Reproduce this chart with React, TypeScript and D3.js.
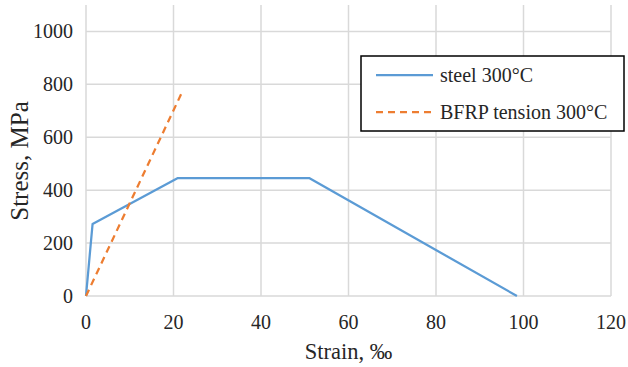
import * as d3 from 'd3';

const steelStrain = [0, 1.5, 21, 51, 98.5];
const steelStress = [0, 272, 446, 446, 0];
const bfrpStrain = [0, 22];
const bfrpStress = [0, 772];
const xTicks = [0, 20, 40, 60, 80, 100, 120];
const yTicks = [0, 200, 400, 600, 800, 1000];

const seriesNames = ['steel 300°C', 'BFRP tension 300°C'];
const colors = ['#5b9bd5', '#ed7d31'];

const width = 628;
const height = 367;
const margin = { top: 5, right: 17, bottom: 71, left: 86 };
const font = 'Liberation Serif';
const textColor = '#262626';

export default function App() {
  const x = d3.scaleLinear().domain([0, 120]).range([margin.left, width - margin.right]);
  const y = d3.scaleLinear().domain([0, 1100]).range([height - margin.bottom, margin.top]);

  const line = d3.line<[number, number]>()
    .x(d => x(d[0]))
    .y(d => y(d[1]));

  const steel = steelStrain.map((s, i) => [s, steelStress[i]] as [number, number]);
  const bfrp = bfrpStrain.map((s, i) => [s, bfrpStress[i]] as [number, number]);

  return (
    <svg
      width={width}
      height={height}
      style={{ position: 'absolute', left: 0, top: 0, background: 'white' }}
    >
      {/* grid */}
      {xTicks.map(t => (
        <line key={'v' + t} x1={x(t)} x2={x(t)} y1={y(1100)} y2={y(0)} stroke="#d9d9d9" strokeWidth={1.5} />
      ))}
      {yTicks.map(t => (
        <line key={'h' + t} x1={x(0)} x2={x(120)} y1={y(t)} y2={y(t)} stroke="#d9d9d9" strokeWidth={1.5} />
      ))}

      {/* tick labels */}
      {yTicks.map(t => (
        <text
          key={'yl' + t}
          x={x(0) - 13}
          y={y(t)}
          dy="0.35em"
          textAnchor="end"
          fill={textColor}
          style={{ fontFamily: font, fontSize: '20px' }}
        >
          {t}
        </text>
      ))}
      {xTicks.map(t => (
        <text
          key={'xl' + t}
          x={x(t)}
          y={y(0) + 33}
          textAnchor="middle"
          fill={textColor}
          style={{ fontFamily: font, fontSize: '20px' }}
        >
          {t}
        </text>
      ))}

      {/* axis titles */}
      <text
        x={(x(0) + x(120)) / 2}
        y={359}
        textAnchor="middle"
        fill={textColor}
        style={{ fontFamily: font, fontSize: '22.5px' }}
      >
        Strain, ‰
      </text>
      <text
        transform={`translate(28,161) rotate(-90)`}
        textAnchor="middle"
        fill={textColor}
        style={{ fontFamily: font, fontSize: '25px' }}
      >
        Stress, MPa
      </text>

      {/* series */}
      <path d={line(steel) ?? ''} fill="none" stroke={colors[0]} strokeWidth={2.25} strokeLinejoin="round" />
      <path d={line(bfrp) ?? ''} fill="none" stroke={colors[1]} strokeWidth={2.25} strokeDasharray="7,5" />

      {/* legend */}
      <g transform="translate(361,56)">
        <rect width={263} height={75} fill="white" stroke="black" strokeWidth={1.5} />
        {seriesNames.map((name, i) => {
          const ly = 19 + i * 37;
          return (
            <g key={name}>
              <line
                x1={15}
                x2={72}
                y1={ly}
                y2={ly}
                stroke={colors[i]}
                strokeWidth={2.25}
                strokeDasharray={i === 1 ? '7,5' : undefined}
              />
              <text
                x={79}
                y={ly}
                dy="0.35em"
                fill={textColor}
                style={{ fontFamily: font, fontSize: '20px' }}
              >
                {name}
              </text>
            </g>
          );
        })}
      </g>
    </svg>
  );
}
